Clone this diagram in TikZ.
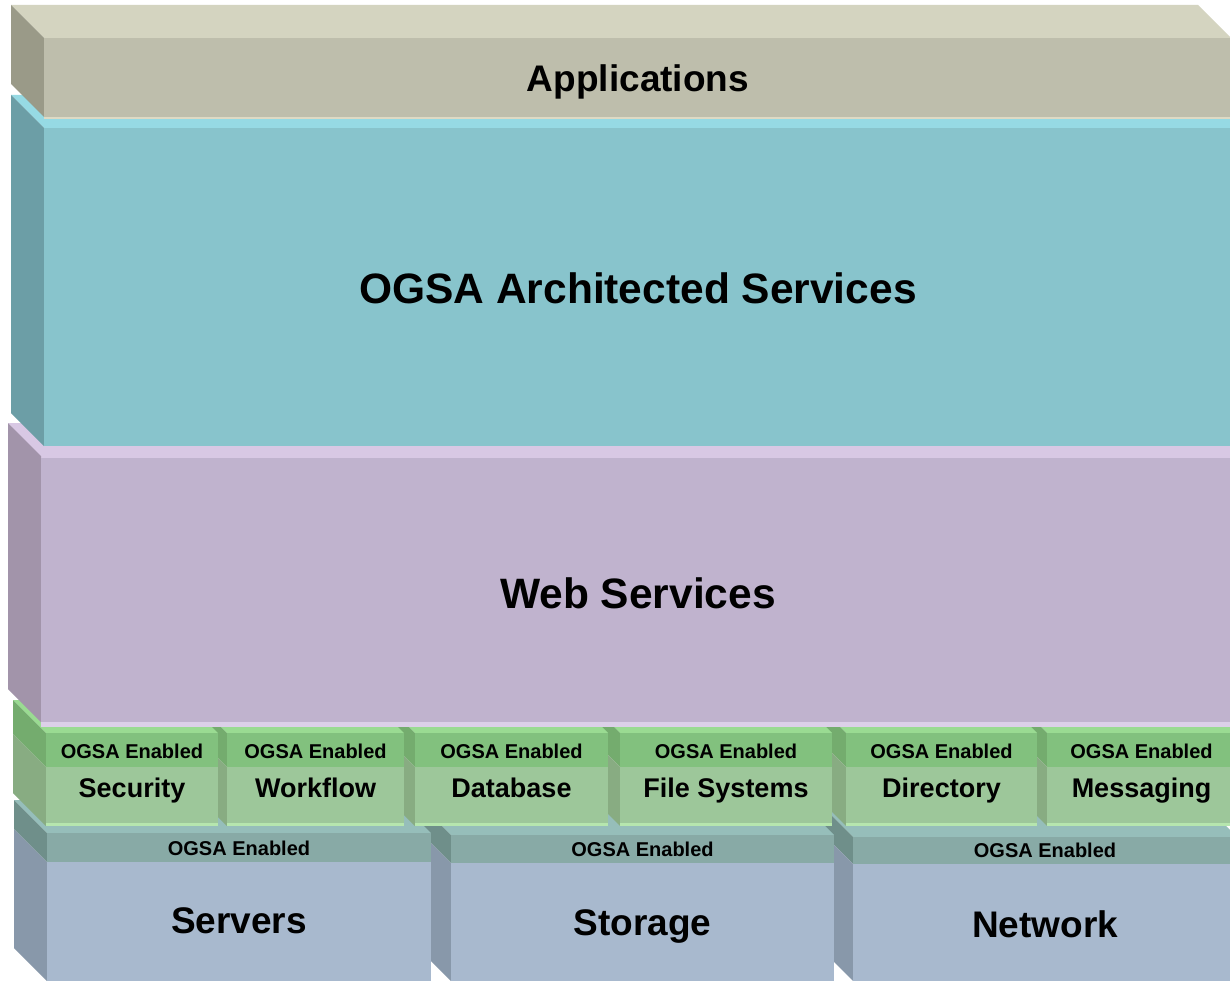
\documentclass[tikz,border=0pt]{standalone}
\usepackage{fontspec}
\setmainfont{Liberation Sans}
\definecolor{atop}{HTML}{D4D4C0}
\definecolor{afront}{HTML}{BEBEAC}
\definecolor{aside}{HTML}{9A9A88}
\definecolor{aline}{HTML}{DEDAC4}
\definecolor{ctop}{HTML}{96DAE4}
\definecolor{cfront}{HTML}{88C4CC}
\definecolor{cside}{HTML}{6C9EA6}
\definecolor{ptop}{HTML}{D8C8E4}
\definecolor{pfront}{HTML}{C0B3CE}
\definecolor{pside}{HTML}{A294AA}
\definecolor{pline}{HTML}{DCD0E8}
\definecolor{gtopc}{HTML}{9ADB92}
\definecolor{gbandc}{HTML}{82C17E}
\definecolor{gmainc}{HTML}{9DC79A}
\definecolor{glinec}{HTML}{B6E6AE}
\definecolor{gsideupc}{HTML}{74AC6E}
\definecolor{gsideloc}{HTML}{88AC82}
\definecolor{btopc}{HTML}{96BEBA}
\definecolor{bbandc}{HTML}{88AAA6}
\definecolor{bmainc}{HTML}{A8B9CE}
\definecolor{bsideupc}{HTML}{6F8F8A}
\definecolor{bsideloc}{HTML}{8898AA}
\tikzset{
  lbl/.style={anchor=base, inner sep=0pt, font=\bfseries},
  big/.style={lbl, font=\bfseries\fontsize{42.5}{46}\selectfont},
  app/.style={lbl, font=\bfseries\fontsize{37}{40}\selectfont},
  mid/.style={lbl, font=\bfseries\fontsize{27}{30}\selectfont},
  small/.style={lbl, font=\bfseries\fontsize{20}{22}\selectfont},
}
% green service box: name, side x, front x, right x, label
\newcommand{\gbox}[5]{%
  \fill[gtopc] (#2,700) -- ({#4-33},700) -- (#4,733) -- (#3,733) -- cycle;
  \fill[gsideupc] (#2,700) -- (#3,733) -- (#3,767) -- (#2,734) -- cycle;
  \fill[gsideloc] (#2,734) -- (#3,767) -- (#3,826) -- (#2,793) -- cycle;
  \fill[gbandc] (#3,733) rectangle (#4,767);
  \fill[gmainc] (#3,767) rectangle (#4,823);
  \fill[glinec] (#3,823) rectangle (#4,826);
  \node[small] (#1e) at ({(#3+#4)/2},758) {OGSA Enabled};
  \node[mid] (#1) at ({(#3+#4)/2},797) {#5};
}
% bottom resource box: name, side x, front x, right x, band top, main top, label, band baseline, label baseline
\newcommand{\bbox}[9]{%
  \fill[btopc] (#2,{#5-33}) -- ({#4-33},{#5-33}) -- (#4,#5) -- (#3,#5) -- cycle;
  \fill[bsideupc] (#2,{#5-33}) -- (#3,#5) -- (#3,#6) -- (#2,{#6-33}) -- cycle;
  \fill[bsideloc] (#2,{#6-33}) -- (#3,#6) -- (#3,981) -- (#2,948) -- cycle;
  \fill[bbandc] (#3,#5) rectangle (#4,#6);
  \fill[bmainc] (#3,#6) rectangle (#4,990);
  \node[small] (#1e) at ({(#3+#4)/2},#8) {OGSA Enabled};
  \node[app] (#1) at ({(#3+#4)/2},#9) {#7};
}
\begin{document}
\begin{tikzpicture}[x=1pt,y=-1pt]
\useasboundingbox (0,0) rectangle (1230,981);
\clip (0,0) rectangle (1230,981);
\fill[white] (0,0) rectangle (1230,981);
% bottom row (right to left)
\bbox{net}{820}{853}{1237}{837}{864}{Network}{857}{937}
\bbox{sto}{418}{451}{834}{835}{863}{Storage}{856}{935}
\bbox{srv}{14}{47}{431}{833}{862}{Servers}{855}{933}
% green row (right to left)
\gbox{msg}{1014}{1047}{1236}{Messaging}
\gbox{dir}{813}{846}{1037}{Directory}
\gbox{fs}{587}{620}{832}{File Systems}
\gbox{db}{382}{415}{608}{Database}
\gbox{wf}{194}{227}{404}{Workflow}
\gbox{sec}{13}{46}{218}{Security}
% Web Services
\fill[ptop] (8,423) -- (1240,423) -- (1240,458) -- (41,458) -- cycle;
\fill[pside] (8,423) -- (41,456) -- (41,722) -- (8,689) -- cycle;
\fill[pfront] (41,458) rectangle (1240,722);
\fill[pline] (41,722) rectangle (1240,727);
\node[big] (web) at (638,608) {Web Services};
% OGSA Architected Services
\fill[ctop] (11,95) -- (1222,95) -- (1255,128) -- (44,128) -- cycle;
\fill[cside] (11,95) -- (44,128) -- (44,446) -- (11,413) -- cycle;
\fill[cfront] (44,128) rectangle (1240,446);
\node[big] (arch) at (638,304) {OGSA Architected Services};
% Applications
\fill[atop] (11,5) -- (1198,5) -- (1231,38) -- (44,38) -- cycle;
\fill[aside] (11,5) -- (44,38) -- (44,117) -- (11,84) -- cycle;
\fill[afront] (44,38) rectangle (1240,117);
\fill[aline] (44,117) rectangle (1240,119);
\node[app] (apps) at (638,92) {Applications};
\end{tikzpicture}
\end{document}
